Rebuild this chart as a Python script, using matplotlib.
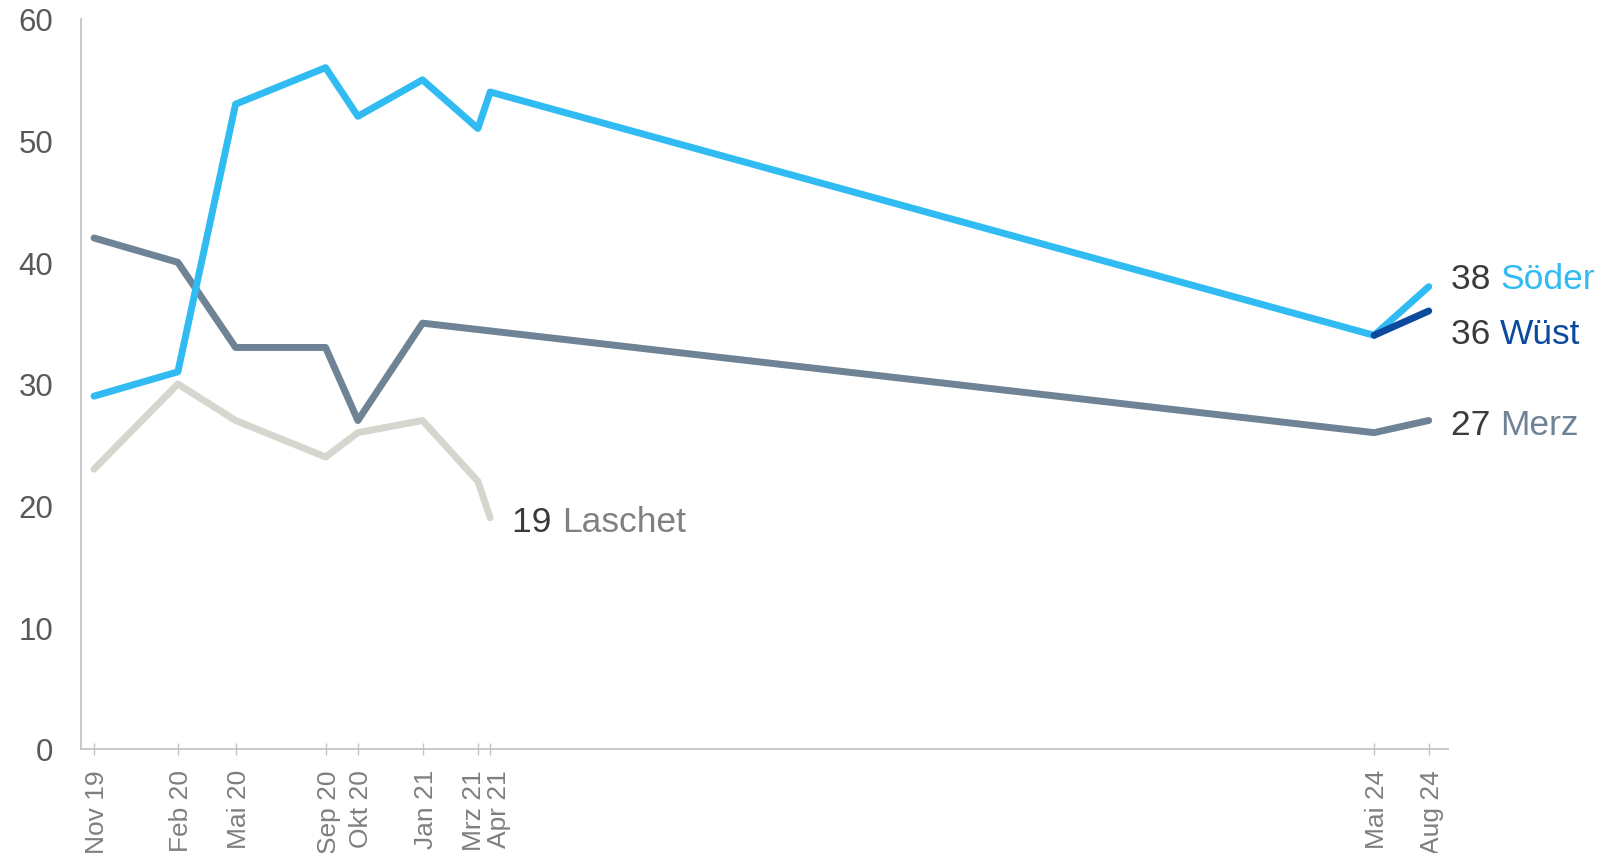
import matplotlib
matplotlib.use("Agg")
import matplotlib.pyplot as plt
import matplotlib.transforms as mtransforms
import pandas as pd

plt.rcParams["font.family"] = ["Liberation Sans", "DejaVu Sans"]

# survey dates (day chosen to match the spacing of the original chart)
dates = pd.to_datetime([
    "2019-11-10", "2020-02-27", "2020-05-12", "2020-09-06", "2020-10-18",
    "2021-01-10", "2021-03-23", "2021-04-08", "2024-05-31", "2024-08-10",
])
tick_labels = ["Nov 19", "Feb 20", "Mai 20", "Sep 20", "Okt 20",
               "Jan 21", "Mrz 21", "Apr 21", "Mai 24", "Aug 24"]

soeder = [29, 31, 53, 56, 52, 55, 51, 54, 34, 38]
merz = [42, 40, 33, 33, 27, 35, None, None, 26, 27]
laschet = [23, 30, 27, 24, 26, 27, 22, 19, None, None]
wuest = [None, None, None, None, None, None, None, None, 34, 36]

series = [
    ("Laschet", laschet, "#d5d6cd", "#808080"),
    ("Merz", merz, "#6e8395", "#6e8395"),
    ("Söder", soeder, "#30bcf2", "#30bcf2"),
    ("Wüst", wuest, "#0b4a9c", "#0b4a9c"),
]
# vertical nudge (in data units) for end labels so they don't collide
label_nudge = {"Laschet": 0, "Merz": 0, "Söder": 1.0, "Wüst": -1.5}

fig = plt.figure(figsize=(16.06, 8.54), dpi=100)
ax = fig.add_axes([0.0504, 0.1218, 0.8512, 0.8548])

for name, vals, color, name_color in series:
    pts = [(d, v) for d, v in zip(dates, vals) if v is not None]
    xs = [p[0] for p in pts]
    ys = [p[1] for p in pts]
    ax.plot(xs, ys, color=color, linewidth=5, solid_capstyle="round",
            solid_joinstyle="round", zorder=3)
    last_x, last_y = xs[-1], ys[-1]
    ann = ax.annotate(f"{last_y:g} ", xy=(last_x, last_y + label_nudge[name]),
                      xytext=(16, -3), textcoords="offset points",
                      fontsize=25.5, color="#3a3a3a", va="center", ha="left",
                      annotation_clip=False)
    ax.annotate(name, xy=(1, 0.5), xycoords=ann, xytext=(0, 0),
                textcoords="offset points", fontsize=25.5, color=name_color,
                va="center", ha="left", annotation_clip=False)

ax.set_ylim(0, 60)
ax.set_yticks(range(0, 61, 10))
ax.set_xlim(dates[0] - pd.Timedelta(days=17), dates[-1] + pd.Timedelta(days=25))
ax.set_xticks(dates)
ax.set_xticklabels(tick_labels, rotation=90)

for s in ["top", "right"]:
    ax.spines[s].set_visible(False)
for s in ["left", "bottom"]:
    ax.spines[s].set_color("#c4c4c4")
    ax.spines[s].set_linewidth(1.3)

ax.tick_params(axis="y", length=0, pad=20, labelsize=22.5, labelcolor="#595959")
ax.tick_params(axis="x", direction="inout", length=9, width=1, color="#c4c4c4",
               pad=10, labelsize=19, labelcolor="#7f7f7f")

# nudge the crowded Mrz/Apr labels apart like the original
shift_px = {"Mrz 21": -4, "Apr 21": 9}
for lbl in ax.get_xticklabels():
    dx = shift_px.get(lbl.get_text(), 3)
    lbl.set_transform(lbl.get_transform() +
                      mtransforms.ScaledTranslation(dx / 100, 0, fig.dpi_scale_trans))

fig.savefig("out.png", dpi=100)
